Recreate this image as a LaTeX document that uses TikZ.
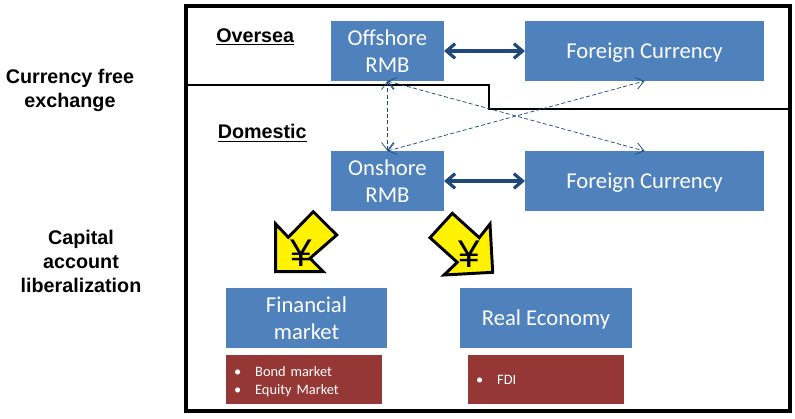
\documentclass[tikz,border=0pt]{standalone}
\usepackage{fontspec}
\setmainfont{Carlito}
\newfontfamily\arialfont{Liberation Sans}
\usetikzlibrary{arrows.meta,positioning}
\definecolor{bluebox}{RGB}{79,129,189}
\definecolor{redbox}{RGB}{149,55,53}
\definecolor{linkblue}{RGB}{31,73,125}
\tikzset{
  mainbox/.style={fill=bluebox,text=white,align=center,outer sep=0pt,inner sep=0pt,minimum height=45pt,
    text depth=0pt,font=\fontsize{17}{20}\selectfont},
  listbox/.style={fill=redbox,text=white,align=left,outer sep=0pt,inner sep=0pt,minimum height=36.75pt,
    minimum width=117pt,text width=105pt,font=\fontsize{10.8}{13.5}\selectfont},
  sidelabel/.style={align=center,inner sep=0pt,font=\arialfont\bfseries\fontsize{14.8}{18}\selectfont},
  zonelabel/.style={anchor=west,inner sep=0pt,font=\arialfont\bfseries\fontsize{14.8}{18}\selectfont},
  strongarrow/.style={draw=linkblue,line width=2.4pt,{Straight Barb[length=6.5pt,width=11pt]}-{Straight Barb[length=6.5pt,width=11pt]}},
  dashedarrow/.style={draw=linkblue,line width=0.55pt,dashed,dash pattern=on 3pt off 1.8pt,{Straight Barb[length=6pt,width=9pt]}-{Straight Barb[length=6pt,width=9pt]}},
  yenarrow/.style={draw=black,fill=yellow,line width=2.2pt,line join=miter},
  yensign/.style={inner sep=0pt,font=\arialfont\fontsize{29}{29}\selectfont},
}
\newcommand{\bulletline}[1]{\hspace*{0pt}\textbullet\hspace{10.5pt}#1}
\begin{document}
\begin{tikzpicture}[x=0.75pt,y=-0.75pt]
  \useasboundingbox (0,0) rectangle (795,418);
  % zones
  \draw[line width=2.3pt] (186,6) rectangle (790,411);
  \draw[line width=2.2pt] (186,85) -- (489,85) -- (489,109);
  \draw[line width=1.6pt] (488,109) -- (790,109);
  % boxes
  \node[mainbox,minimum width=84.75pt] (offshore) at (387.5,51) {Offshore\\RMB};
  \node[mainbox,minimum width=179.25pt] (foreignup) at (644.5,51) {Foreign Currency};
  \node[mainbox,minimum width=84.75pt] (onshore) at (387.5,181) {Onshore\\RMB};
  \node[mainbox,minimum width=179.25pt] (foreigndown) at (644.5,181) {Foreign Currency};
  \node[mainbox,minimum width=120.75pt] (financial) at (306.5,318) {Financial\\market};
  \node[mainbox,minimum width=129pt] (realeco) at (546,318) {Real Economy};
  \node[listbox] (bondlist) at (304,379.5) {\rule{0pt}{10.5pt}\bulletline{Bond market}\\\bulletline{Equity Market}};
  \node[listbox] (fdilist) at (546,379.5) {\bulletline{FDI}};
  % labels
  \node[sidelabel] (freelabel) at (70,90) {Currency free\\exchange};
  \node[sidelabel] (capitallabel) at (81,261) {Capital\\account\\liberalization};
  \node[zonelabel] (overlabel) at (216,37) {\underline{Oversea}};
  \node[zonelabel] (domlabel) at (217.5,133) {\underline{Domestic}};
  % links
  \draw[strongarrow] (offshore) -- (foreignup);
  \draw[strongarrow] (onshore) -- (foreigndown);
  \draw[dashedarrow] (offshore.south) -- (onshore.north);
  \draw[dashedarrow] (offshore.south) -- (foreigndown.north);
  \draw[dashedarrow] (onshore.north) -- (foreignup.south);
  % yen arrows
  \draw[yenarrow] (275.7,224) -- (275.7,271.7) -- (323.3,271.7) -- (310,258.3) -- (336.7,235) -- (313.3,211.7) -- (288.3,237.3) -- cycle;
  \draw[yenarrow] (490,224) -- (492.7,272.3) -- (444,275) -- (457.3,262.3) -- (430,237.7) -- (452.3,213.3) -- (479.3,237.7) -- cycle;
  \node[yensign] (yenleft) at (301,253) {¥};
  \node[yensign] (yenright) at (469,254) {¥};
\end{tikzpicture}
\end{document}
